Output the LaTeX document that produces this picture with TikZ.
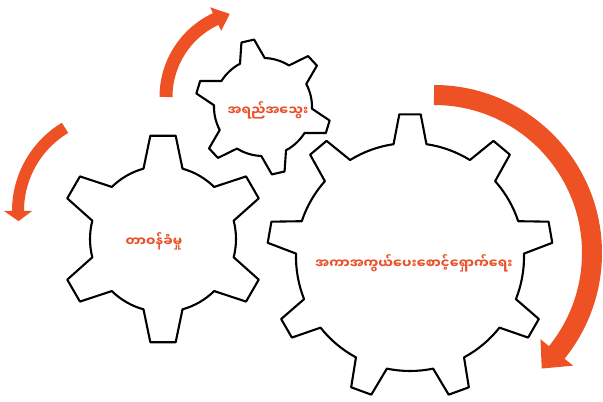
\documentclass[tikz,border=0pt]{standalone}
\usepackage{fontspec}
\newfontfamily\myan[Script=Myanmar]{Noto Sans Myanmar UI}
\definecolor{arrowc}{HTML}{EE5124}
\definecolor{textc}{HTML}{E9522B}
\tikzset{
  gearline/.style={draw=black, line width=2.1pt, line join=round, fill=white},
  lbl/.style={text=textc, font=\myan\bfseries\fontsize{13.2}{15}\selectfont, inner sep=0pt},
  arrowshaft/.style={draw=arrowc, line cap=butt},
  arrowheadfill/.style={fill=arrowc},
}
% cx, cy, N, R, r, start angle, tip half-angle, base half-angle
\newcommand\gearshape[8]{%
  \pgfmathsetmacro\gstep{360/#3}%
  \pgfmathtruncatemacro\gN{#3}%
  \begin{scope}[shift={(#1,#2)}]
  \draw[gearline] ({#6-#8}:#5pt)
    \foreach \k in {1,...,\gN}{
      -- ({#6+(\k-1)*\gstep-#7}:#4pt) -- ({#6+(\k-1)*\gstep+#7}:#4pt) -- ({#6+(\k-1)*\gstep+#8}:#5pt)
      arc[start angle={#6+(\k-1)*\gstep+#8}, end angle={#6+\k*\gstep-#8}, radius=#5pt]
    } -- cycle;
  \end{scope}
}
% cx, cy, r, tail angle, head base angle, tip angle, shaft width, head half-width
\newcommand\curvedarrow[8]{%
  \pgfmathsetmacro\shaftend{#5+0.3*(#6-#5)}%
  \begin{scope}[shift={(#1,#2)}]
  \draw[arrowshaft, line width=#7pt] (#4:#3pt) arc[start angle=#4, end angle=\shaftend, radius=#3pt];
  \fill[arrowheadfill] ({#5}:{(#3-#8)*1pt}) -- ({#5}:{(#3+#8)*1pt}) -- ({#6}:{#3*1pt}) -- cycle;
  \end{scope}
}
\begin{document}
\begin{tikzpicture}[x=1pt,y=1pt]
\useasboundingbox (0,0) rectangle (603,402);
% gears
\gearshape{163}{163}{6}{104}{73}{90}{7}{15.5}
\gearshape{263}{295}{6}{68}{49}{103}{5.5}{15}
\gearshape{410}{145}{9}{143}{114}{90}{4.3}{8.3}
% labels
\node[lbl] (quality) at (268,292) {အရည်အသွေး};
\node[lbl] (account) at (154,161) {တာဝန်ခံမှု};
\node[lbl] (protect) at (414,139) {အကာအကွယ်ပေးစောင့်ရှောက်ရေး};
% arrows
\curvedarrow{252}{305}{86}{180}{115}{105}{13}{13}
\curvedarrow{115}{191}{97}{121}{180}{186}{12}{14}
\curvedarrow{434}{149}{158}{90}{-39}{-47}{20}{21}
\end{tikzpicture}
\end{document}
